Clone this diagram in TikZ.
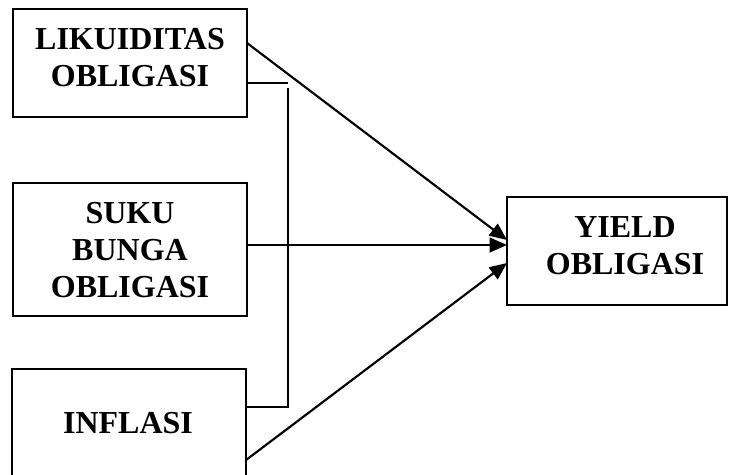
\documentclass[tikz,border=0pt]{standalone}
\usepackage{fontspec}
\setmainfont{Liberation Serif}
\usetikzlibrary{arrows.meta}

\begin{document}
\begin{tikzpicture}[
    x=0.75pt, y=-0.75pt,
    box/.style={rectangle, draw, line width=1.6pt, inner sep=0pt, outer sep=0pt},
    varlabel/.style={font=\bfseries\fontsize{24}{27.75}\selectfont, align=center, inner sep=0pt},
    arrow/.style={-{Triangle[length=13pt, width=11pt]}, line width=1.6pt},
    bracket/.style={line width=1.6pt}
  ]
    \clip (0,0) rectangle (729,475);

    % Variable boxes
    \node[box, minimum width=175.5pt, minimum height=81pt] (lik) at (130,63) {};
    \node[box, minimum width=175.5pt, minimum height=99.75pt] (suku) at (130,249.5) {};
    \node[box, minimum width=175.5pt, minimum height=90.75pt] (inf) at (129,429.5) {};
    \node[box, minimum width=165pt, minimum height=81pt] (yield) at (617,251) {};

    % Labels
    \node[varlabel] (liklabel) at (130,58) {LIKUIDITAS\\OBLIGASI};
    \node[varlabel] (sukulabel) at (130,250) {SUKU\\BUNGA\\OBLIGASI};
    \node[varlabel] (inflabel) at (128,423) {INFLASI};
    \node[varlabel] (yieldlabel) at (625,246) {YIELD\\OBLIGASI};

    % Bracket joining the first and last box
    \coordinate (brktop) at (288,88);
    \coordinate (brkbot) at (288,407);
    \draw[bracket] ([yshift=-15pt]lik.east) -- ([yshift=-15pt]lik.east -| brktop);
    \draw[bracket] (brktop) -- (brkbot) -- (brkbot -| inf.east);

    % Arrows to the yield box
    \draw[arrow] ([yshift=15pt]lik.east) -- ([yshift=8.25pt]yield.west);
    \draw[arrow] ([yshift=3.375pt]suku.east) -- ([yshift=3.375pt]suku.east -| yield.west);
    \draw[arrow] ([yshift=-22.9pt]inf.east) -- ([yshift=-9pt]yield.west);

  \end{tikzpicture}
\end{document}
